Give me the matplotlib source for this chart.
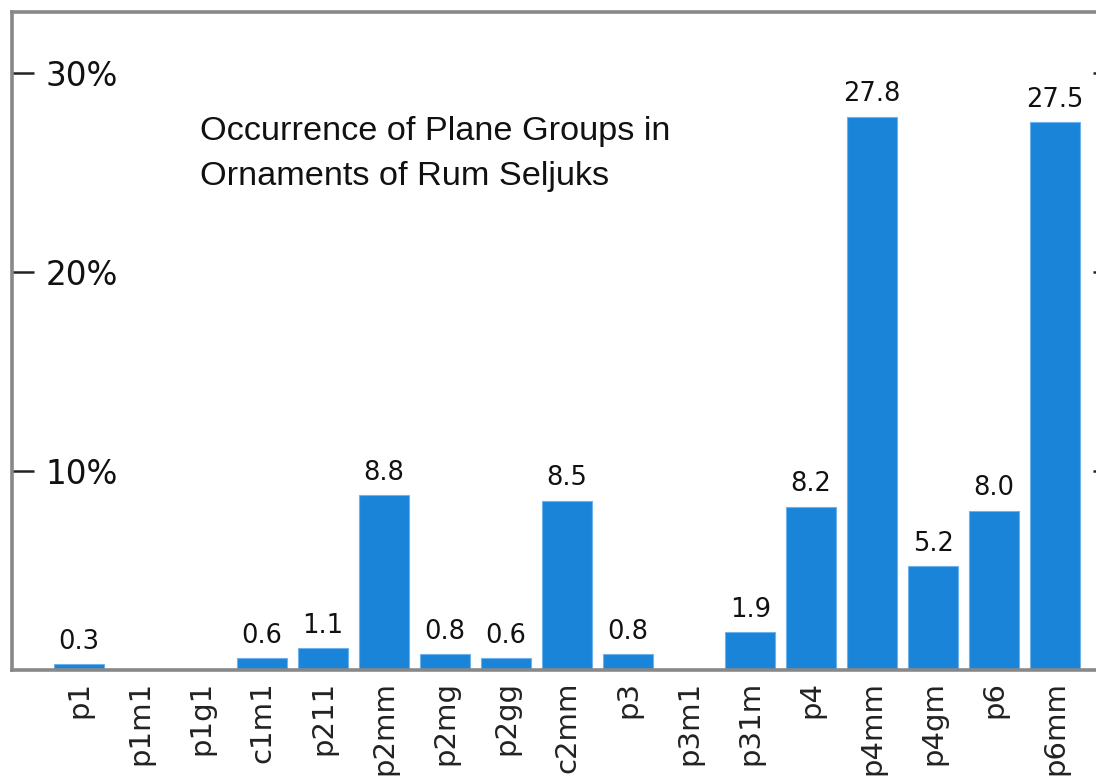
import matplotlib
matplotlib.use("Agg")
from matplotlib import pyplot as plt
import numpy as np

plt.rcParams['font.family'] = ['DejaVu Sans']

# plane groups and their share (%) in Rum Seljuk ornaments
groups = ['p1', 'p1m1', 'p1g1', 'c1m1', 'p211', 'p2mm', 'p2mg', 'p2gg', 'c2mm',
          'p3', 'p3m1', 'p31m', 'p4', 'p4mm', 'p4gm', 'p6', 'p6mm']
shares = [0.3, 0, 0, 0.6, 1.1, 8.8, 0.8, 0.6, 8.5,
          0.8, 0, 1.9, 8.2, 27.8, 5.2, 8.0, 27.5]
y_ticks = [10, 20, 30]
y_tick_labels = ['10%', '20%', '30%']
title = 'Occurrence of Plane Groups in\nOrnaments of Rum Seljuks'

W, H = 1096, 778
fig = plt.figure(figsize=(W / 100, H / 100), dpi=100)
# axes box runs past the right edge of the picture (cropped original)
left, right, top, bottom = 12, 1115, 12, 670
ax = fig.add_axes([left / W, (H - bottom) / H, (right - left) / W, (bottom - top) / H])

x = np.arange(len(groups))
ax.bar(x, shares, width=0.82, color='#1a84d8', edgecolor='#6fb1ea', linewidth=0.8)

for xi, v in zip(x, shares):
    if v > 0:
        ax.annotate(f'{v:.1f}', (xi, v), xytext=(0, 11), textcoords='offset points',
                    ha='center', va='baseline', fontsize=18.5, color='#111111')

ax.set_xlim(-1.1, 16.98)
ax.set_ylim(0, 33.05)

ax.set_xticks(x)
ax.set_xticklabels(groups, rotation=90, fontsize=21, color='#222222', va='top')
ax.tick_params(axis='x', length=0, pad=8)

ax.set_yticks(y_ticks)
ax.set_yticklabels(y_tick_labels, fontsize=23.5, color='#111111', ha='left')
ax.tick_params(axis='y', direction='in', length=16, width=1.8, color='#222222',
               pad=-24, right=True, labelright=False)

for s in ax.spines.values():
    s.set_color('#888888')
    s.set_linewidth(2.6)

ax.text((200 - left) / (right - left), 1 - (116 - top) / (bottom - top), title,
        transform=ax.transAxes, ha='left', va='top', fontsize=24.7,
        family='Liberation Sans', linespacing=1.6, color='#111111')

fig.savefig('out.png', dpi=100)
